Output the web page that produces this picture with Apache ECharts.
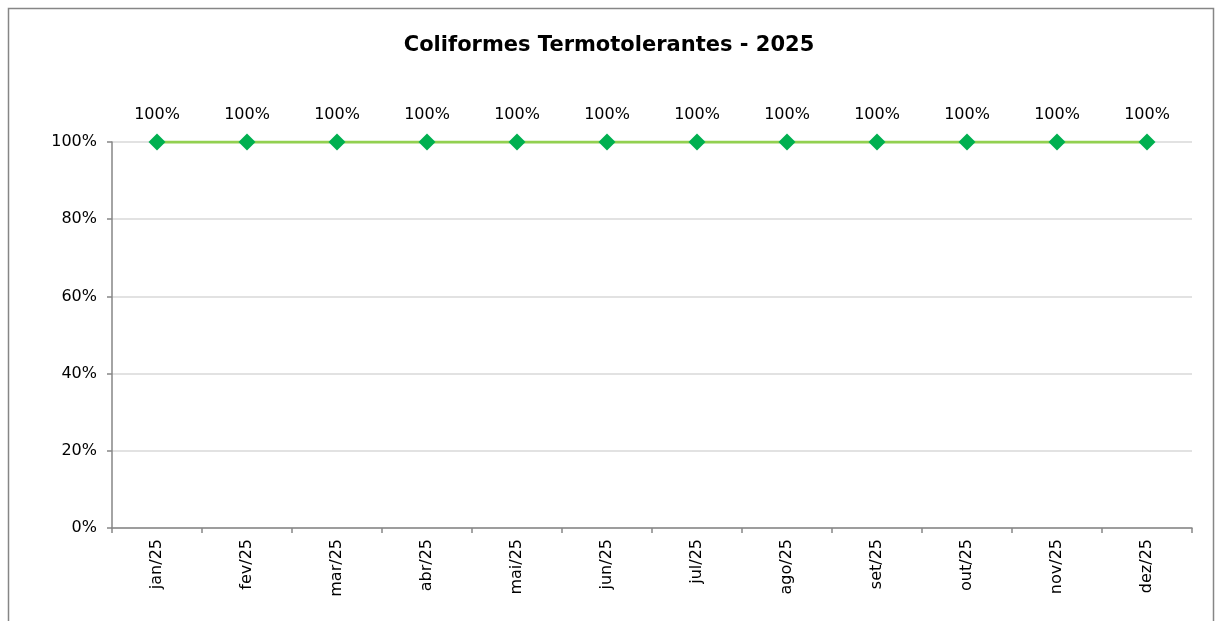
<!DOCTYPE html>
<html>
<head>
<meta charset="utf-8">
<script src="https://cdn.jsdelivr.net/npm/echarts@6/dist/echarts.min.js"></script>
<style>
  html, body { margin: 0; padding: 0; background: #fff; }
  #chart { width: 1218px; height: 621px; }
</style>
</head>
<body>
<div id="chart"></div>
<script>
const months = ['jan/25', 'fev/25', 'mar/25', 'abr/25', 'mai/25', 'jun/25',
  'jul/25', 'ago/25', 'set/25', 'out/25', 'nov/25', 'dez/25'];
const conformity = [100, 100, 100, 100, 100, 100, 100, 100, 100, 100, 100, 100];

const font = 'DejaVu Sans, Verdana, sans-serif';
const axisGray = '#868686';

const chart = echarts.init(document.getElementById('chart'));

const option = {
  animation: false,
  backgroundColor: '#fff',
  title: {
    text: 'Coliformes Termotolerantes - 2025',
    left: 'center',
    top: 30,
    textStyle: { fontFamily: font, fontSize: 21, fontWeight: 'bold', color: '#000' }
  },
  graphic: [
    {
      type: 'rect',
      shape: { x: 8.5, y: 8.5, width: 1205, height: 700 },
      style: { fill: 'none', stroke: axisGray, lineWidth: 1.5 },
      silent: true
    }
  ],
  grid: { left: 112, right: 26, top: 142, bottom: 93 },
  xAxis: {
    type: 'category',
    data: months,
    boundaryGap: true,
    axisLine: { lineStyle: { color: axisGray, width: 1.5 } },
    axisTick: { show: true, length: 5, lineStyle: { color: axisGray, width: 1.5 } },
    axisLabel: { rotate: 90, margin: 11, color: '#000', fontFamily: font, fontSize: 16 }
  },
  yAxis: {
    type: 'value',
    min: 0,
    max: 100,
    interval: 20,
    axisLine: { show: true, lineStyle: { color: axisGray, width: 1.5 } },
    axisTick: { show: true, length: 5, lineStyle: { color: axisGray, width: 1.5 } },
    splitLine: { lineStyle: { color: '#d9d9d9', width: 1.5 } },
    axisLabel: { formatter: '{value}%', margin: 15, color: '#000', fontFamily: font, fontSize: 16 }
  },
  series: [
    {
      name: 'Coliformes Termotolerantes',
      type: 'line',
      data: conformity,
      symbol: 'diamond',
      symbolSize: 17,
      lineStyle: { color: '#92d050', width: 3 },
      itemStyle: { color: '#00b050' },
      label: {
        show: true,
        position: 'top',
        distance: 11,
        formatter: '{c}%',
        color: '#000',
        fontFamily: font,
        fontSize: 16
      }
    }
  ]
};

chart.setOption(option);
</script>
</body>
</html>
